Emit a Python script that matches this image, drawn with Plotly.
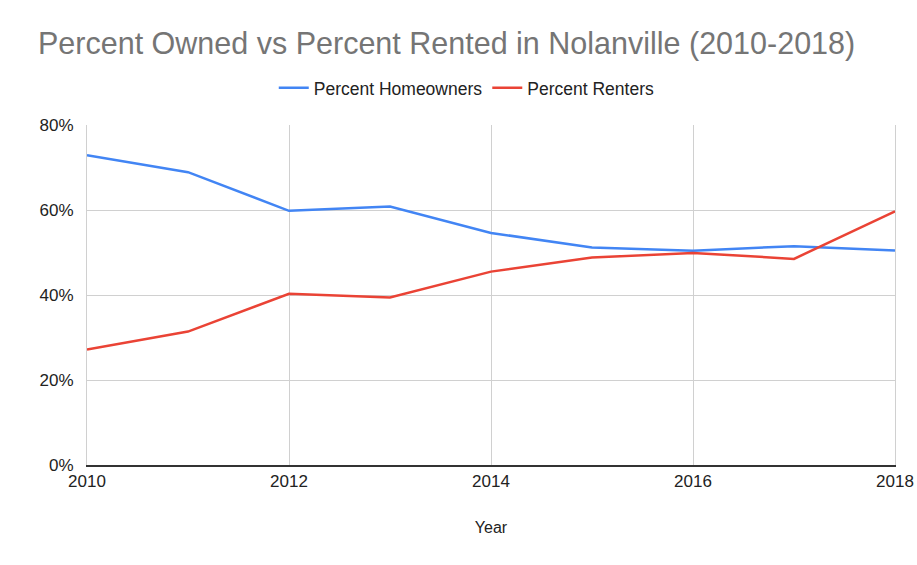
import plotly.graph_objects as go

years = [2010, 2011, 2012, 2013, 2014, 2015, 2016, 2017, 2018]
pct_homeowners = [72.9, 68.9, 59.8, 60.8, 54.6, 51.2, 50.4, 51.5, 50.5]
pct_renters = [27.2, 31.4, 40.3, 39.4, 45.5, 48.8, 49.9, 48.5, 59.7]
y_ticks = [0, 20, 40, 60, 80]
y_tick_labels = ["0%", "20%", "40%", "60%", "80%"]
x_ticks = [2010, 2012, 2014, 2016, 2018]

font_family = "Liberation Sans, Arial, sans-serif"

fig = go.Figure()
fig.add_trace(go.Scatter(x=years, y=pct_homeowners, mode="lines", name="Percent Homeowners",
                         line=dict(color="#4285F4", width=2.5)))
fig.add_trace(go.Scatter(x=years, y=pct_renters, mode="lines", name="Percent Renters",
                         line=dict(color="#EA4335", width=2.5)))

fig.update_layout(
    width=917, height=565,
    paper_bgcolor="white", plot_bgcolor="white",
    font=dict(family=font_family, color="#222222", size=16),
    margin=dict(l=87, r=22, t=125, b=100, autoexpand=False),
    title=dict(text="Percent Owned vs Percent Rented in Nolanville (2010-2018)",
               x=38/917, xref="container", xanchor="left",
               y=1 - 33/565, yref="container", yanchor="top",
               font=dict(size=30.5, color="#757575", family=font_family)),
    legend=dict(orientation="h", x=0.47, xanchor="center", y=1.109, yanchor="middle",
                font=dict(size=17.5, color="#222222"), itemwidth=30),
    showlegend=True,
)

fig.update_xaxes(range=[2010, 2018], tickvals=x_ticks, ticktext=[str(v) for v in x_ticks],
                 showgrid=True, gridcolor="#d0d0d0", gridwidth=1,
                 showline=True, linecolor="#333333", linewidth=1.5,
                 zeroline=False, ticks="", automargin=False,
                 title=dict(text="Year", font=dict(size=16, color="#222222"), standoff=32),
                 tickfont=dict(size=17, color="#222222"))
fig.update_yaxes(range=[0, 80], tickvals=y_ticks, ticktext=y_tick_labels,
                 showgrid=True, gridcolor="#d0d0d0", gridwidth=1,
                 showline=True, linecolor="#d0d0d0", linewidth=1, mirror=True,
                 zeroline=False, ticks="", automargin=False,
                 ticklabelstandoff=9,
                 tickfont=dict(size=17, color="#222222"))

fig.write_html("out.html", config={"displayModeBar": False},
               post_script="document.body.style.margin='0px';")
